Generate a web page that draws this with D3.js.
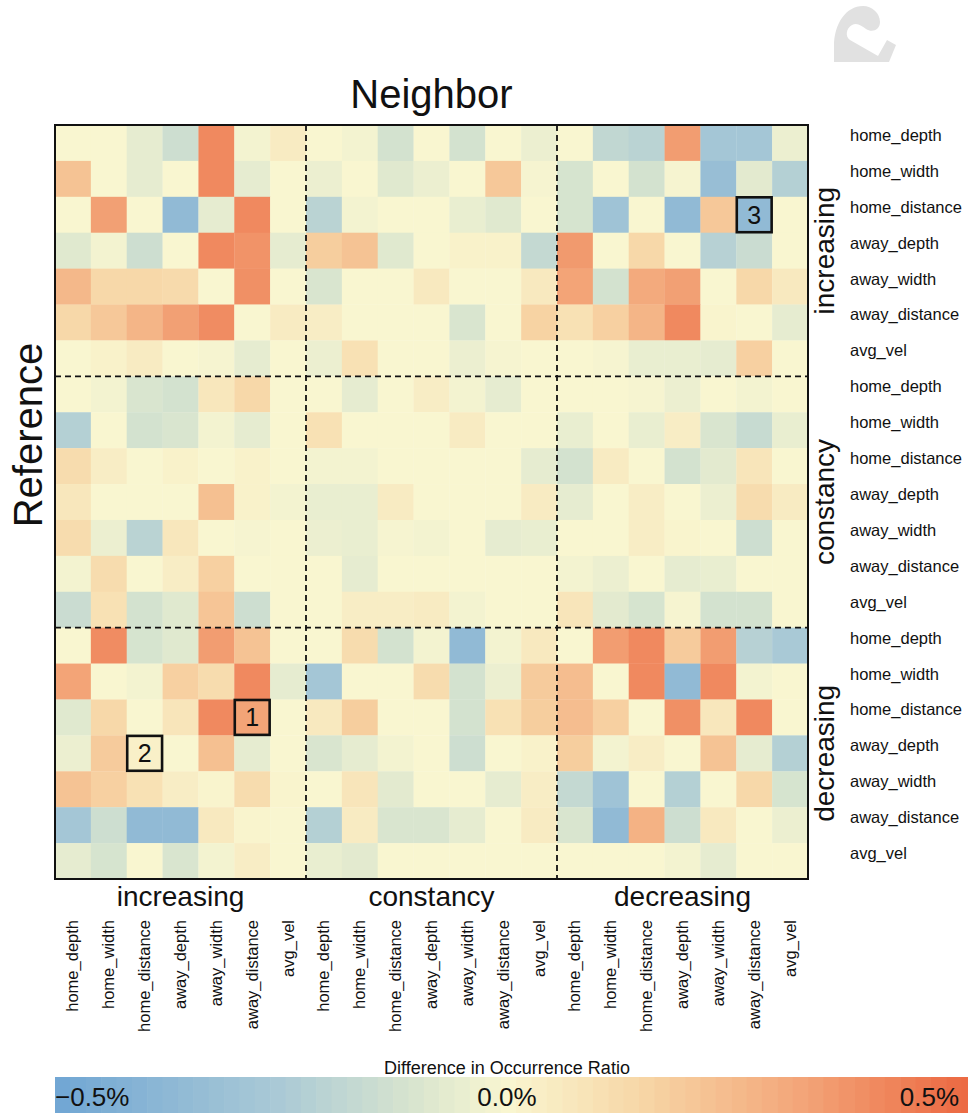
<!DOCTYPE html>
<html>
<head>
<meta charset="utf-8">
<script src="https://cdn.jsdelivr.net/npm/d3@7"></script>
<style>
  html, body { margin: 0; padding: 0; background: #fff; }
  svg { display: block; font-family: "Liberation Sans", Arial, Helvetica, sans-serif; }
</style>
</head>
<body>
<svg id="chart" width="968" height="1113"></svg>
<script>
// Trend groups and features (same order on both axes)
const groups = ["increasing", "constancy", "decreasing"];
const features = ["home_depth", "home_width", "home_distance", "away_depth", "away_width", "away_distance", "avg_vel"];

// Difference in occurrence ratio (%), one row per reference feature,
// columns = neighbor: increasing(7) | constancy(7) | decreasing(7)
const increasingRows = [
  [0, 0, -0.06, -0.14, 0.41, -0.02, 0.05,   0, -0.02, -0.12, 0, -0.12, 0, -0.04,   0, -0.18, -0.2, 0.35, -0.28, -0.28, -0.04],
  [0.22, 0, -0.06, 0, 0.41, -0.06, 0,   -0.04, 0, -0.08, -0.04, 0, 0.2, -0.01,   -0.11, 0, -0.12, -0.01, -0.33, -0.07, -0.22],
  [0, 0.34, 0, -0.36, -0.06, 0.41, 0,   -0.2, -0.02, 0, 0, -0.05, -0.08, 0,   -0.11, -0.3, 0, -0.36, 0.2, -0.36, 0],
  [-0.08, -0.02, -0.14, 0, 0.41, 0.38, -0.06,   0.18, 0.22, -0.08, 0, 0.02, 0.02, -0.17,   0.36, 0, 0.14, 0, -0.21, -0.15, 0],
  [0.26, 0.14, 0.14, 0.13, 0, 0.39, 0,   -0.1, 0, 0, 0.06, 0, 0, 0.06,   0.33, -0.12, 0.31, 0.34, 0, 0.14, 0.06],
  [0.14, 0.2, 0.27, 0.34, 0.4, 0, 0.05,   0.04, 0, 0, 0, -0.1, 0, 0.16,   0.1, 0.17, 0.27, 0.41, 0.01, 0, -0.06],
  [0, 0.02, 0.05, 0, -0.01, -0.06, 0,   -0.04, 0.1, 0, 0, -0.04, -0.01, 0,   0, -0.01, -0.05, -0.05, -0.06, 0.17, 0]
];
const constancyRows = [
  [0, -0.02, -0.1, -0.12, 0.07, 0.14, 0,   0, -0.06, 0, 0.04, -0.02, -0.06, 0,   0, 0, -0.01, -0.04, 0, -0.02, 0],
  [-0.22, 0, -0.12, -0.1, -0.02, -0.06, 0,   0.1, 0, 0, 0, 0.05, 0, 0,   -0.05, 0, -0.05, 0.04, -0.1, -0.16, -0.05],
  [0.12, 0.04, 0, 0.02, 0, 0.02, 0,   -0.02, -0.02, 0, 0, 0, 0, -0.06,   -0.12, 0.05, 0, -0.12, -0.07, 0.08, 0],
  [0.07, 0, 0, 0, 0.23, 0.02, -0.02,   -0.05, -0.05, 0.05, 0, 0, 0, 0.05,   -0.06, 0, 0.04, 0, -0.04, 0.12, 0.05],
  [0.12, -0.04, -0.2, 0.07, 0, -0.01, 0,   -0.04, -0.05, -0.01, -0.02, 0, -0.06, -0.05,   0, 0, 0.04, 0.01, 0, -0.14, 0],
  [-0.02, 0.12, 0, 0.04, 0.17, 0, 0,   0, -0.06, 0, 0, 0, 0, 0,   -0.02, -0.04, 0, -0.06, -0.05, 0, 0],
  [-0.15, 0.1, -0.12, -0.08, 0.21, -0.14, 0,   0, 0.04, 0.04, 0.05, -0.02, 0, 0,   0.08, -0.07, -0.11, -0.01, -0.12, -0.12, 0]
];
const decreasingRows = [
  [0, 0.4, -0.11, -0.08, 0.35, 0.22, 0,   0, 0.12, -0.12, -0.02, -0.36, -0.02, 0.06,   0, 0.35, 0.41, 0.19, 0.35, -0.21, -0.26],
  [0.33, 0, -0.02, 0.17, 0.12, 0.41, -0.06,   -0.28, 0, 0, 0.12, -0.12, -0.04, 0.19,   0.24, 0, 0.41, -0.36, 0.41, -0.02, 0],
  [-0.08, 0.14, 0, 0.08, 0.41, 0.33, 0,   0.06, 0.18, 0, 0, -0.12, 0.1, 0.18,   0.24, 0.17, 0, 0.39, 0.07, 0.41, 0],
  [-0.04, 0.19, 0.03, 0, 0.23, -0.06, 0,   -0.1, -0.06, -0.02, 0, -0.14, 0, 0.02,   0.18, -0.02, 0.04, 0, 0.22, -0.06, -0.22],
  [0.22, 0.17, 0.1, 0.04, 0.01, 0.12, 0.01,   0, 0.08, -0.07, 0, 0, -0.06, 0.04,   -0.17, -0.3, 0, -0.22, 0, 0.14, -0.11],
  [-0.28, -0.14, -0.36, -0.36, 0.06, 0.01, 0,   -0.22, 0.05, -0.1, -0.1, -0.06, 0, 0.05,   -0.1, -0.36, 0.28, -0.14, 0.06, 0, -0.04],
  [-0.06, -0.11, 0, -0.1, -0.02, 0.04, 0,   -0.05, -0.07, 0, 0, 0, 0, 0,   0, 0, 0, -0.02, -0.06, 0, 0]
];

// Highlighted cells: [reference group, reference feature, neighbor group, neighbor feature, tag]
const highlights = [
  ["decreasing", "home_distance", "increasing", "away_distance", "1"],
  ["decreasing", "away_depth", "increasing", "home_distance", "2"],
  ["increasing", "home_distance", "decreasing", "away_distance", "3"]
];

// Colour legend ticks
const legendTicks = [-0.5, 0, 0.5];
const legendLabels = ["\u22120.5%", "0.0%", "0.5%"];

const rowsByGroup = { increasing: increasingRows, constancy: constancyRows, decreasing: decreasingRows };
const keys = [];
groups.forEach(g => features.forEach(f => keys.push(g + "|" + f)));

const cells = [];
groups.forEach(g => {
  rowsByGroup[g].forEach((row, fi) => {
    row.forEach((v, ci) => {
      cells.push({ ref: g + "|" + features[fi], nb: keys[ci], value: v });
    });
  });
});

const svg = d3.select("#chart");
const plotLeft = 55, plotRight = 808, plotTop = 125, plotBottom = 879;

const x = d3.scaleBand().domain(keys).range([plotLeft, plotRight]);
const y = d3.scaleBand().domain(keys).range([plotTop, plotBottom]);

const color = d3.scaleLinear()
  .domain([-0.5, -0.25, -0.12, 0, 0.15, 0.32, 0.5])
  .range(["#70a6d4", "#abcad6", "#d3e2cf", "#f9f6d0", "#f7d6a6", "#f3a77a", "#ec6b44"])
  .clamp(true);

// Watermark glyph in the top-right corner
const mark = svg.append("g").attr("fill", "#e1e1e1");
mark.append("path").attr("d",
  "M863,6 C846,6 834,24 834,46 L834,62 L878,62 L878,56 L850,40 C845,37 846,28 852,25 " +
  "C857,22 862,26 866,29 C872,33 880,30 880,22 C880,13 872,6 863,6 Z");
mark.append("path").attr("d", "M887,40 L896,45 L889,62 L878,62 L878,56 Z");

// Heatmap cells
svg.append("g").selectAll("rect")
  .data(cells)
  .join("rect")
  .attr("x", d => x(d.nb))
  .attr("y", d => y(d.ref))
  .attr("width", x.bandwidth() + 0.3)
  .attr("height", y.bandwidth() + 0.3)
  .attr("fill", d => color(d.value));

// Group separators
const sep = svg.append("g").attr("stroke", "#111").attr("stroke-width", 1.8).attr("stroke-dasharray", "6,4");
[1, 2].forEach(i => {
  const kx = x(keys[i * 7]);
  const ky = y(keys[i * 7]);
  sep.append("line").attr("x1", kx).attr("x2", kx).attr("y1", plotTop).attr("y2", plotBottom);
  sep.append("line").attr("y1", ky).attr("y2", ky).attr("x1", plotLeft).attr("x2", plotRight);
});

// Frame
svg.append("rect")
  .attr("x", plotLeft).attr("y", plotTop)
  .attr("width", plotRight - plotLeft).attr("height", plotBottom - plotTop)
  .attr("fill", "none").attr("stroke", "#111").attr("stroke-width", 2);

// Highlight boxes
const hl = svg.append("g");
highlights.forEach(h => {
  const cx = x(h[2] + "|" + h[3]);
  const cy = y(h[0] + "|" + h[1]);
  hl.append("rect")
    .attr("x", cx + 0.5).attr("y", cy + 0.5)
    .attr("width", x.bandwidth() - 1).attr("height", y.bandwidth() - 1)
    .attr("fill", "none").attr("stroke", "#111").attr("stroke-width", 2.6);
  hl.append("text")
    .attr("x", cx + x.bandwidth() / 2).attr("y", cy + y.bandwidth() / 2 + 9)
    .attr("text-anchor", "middle").attr("font-size", 25).attr("fill", "#111")
    .text(h[4]);
});

// Titles
svg.append("text").attr("x", (plotLeft + plotRight) / 2).attr("y", 108)
  .attr("text-anchor", "middle").attr("font-size", 40).attr("fill", "#111").text("Neighbor");
svg.append("text").attr("transform", "translate(42,435) rotate(-90)")
  .attr("text-anchor", "middle").attr("font-size", 40).attr("fill", "#111").text("Reference");

// Row labels (right)
svg.append("g").selectAll("text")
  .data(keys).join("text")
  .attr("x", 850).attr("y", d => y(d) + y.bandwidth() / 2 - 2)
  .attr("font-size", 16.5).attr("fill", "#111")
  .text(d => d.split("|")[1]);

// Row group labels (right, rotated)
svg.append("g").selectAll("text")
  .data(groups).join("text")
  .attr("transform", (g, i) => {
    const cy = y(keys[i * 7]) + 3.5 * y.bandwidth();
    return `translate(834,${cy}) rotate(-90)`;
  })
  .attr("text-anchor", "middle").attr("font-size", 28).attr("fill", "#111")
  .text(d => d);

// Column group labels (bottom)
svg.append("g").selectAll("text")
  .data(groups).join("text")
  .attr("x", (g, i) => x(keys[i * 7]) + 3.5 * x.bandwidth())
  .attr("y", 906)
  .attr("text-anchor", "middle").attr("font-size", 28).attr("fill", "#111")
  .text(d => d);

// Column labels (bottom, rotated)
svg.append("g").selectAll("text")
  .data(keys).join("text")
  .attr("transform", d => `translate(${x(d) + x.bandwidth() / 2 + 5.5},920) rotate(-90)`)
  .attr("text-anchor", "end").attr("font-size", 16.5).attr("fill", "#111")
  .text(d => d.split("|")[1]);

// Colour legend
const lx = d3.scaleLinear().domain([-0.5, 0.5]).range([55, 959]);
const steps = d3.range(-0.5, 0.52, 0.017);
const lg = svg.append("g");
lg.selectAll("rect").data(steps).join("rect")
  .attr("x", d => lx(d))
  .attr("y", 1077)
  .attr("width", lx(0.017) - lx(0) + 0.6)
  .attr("height", 40)
  .attr("fill", d => color(d + 0.0085));
lg.append("text").attr("x", 507).attr("y", 1074)
  .attr("text-anchor", "middle").attr("font-size", 18).attr("fill", "#111")
  .text("Difference in Occurrence Ratio");
lg.selectAll("text.tick").data(legendTicks).join("text")
  .attr("class", "tick")
  .attr("x", d => lx(d))
  .attr("text-anchor", (d, i) => i === 0 ? "start" : (i === 2 ? "end" : "middle"))
  .attr("y", 1106)
  .attr("font-size", 26).attr("fill", "#111")
  .text((d, i) => legendLabels[i]);
</script>
</body>
</html>
